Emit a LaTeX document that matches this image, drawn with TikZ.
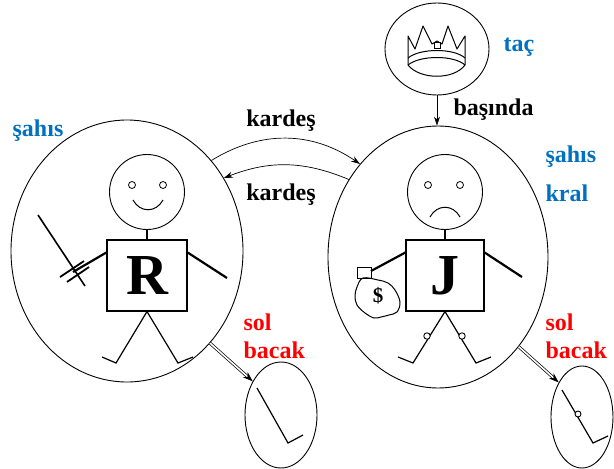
\documentclass[tikz,border=0pt]{standalone}
\usepackage{fontspec}
\setmainfont{Liberation Serif}
\usetikzlibrary{shapes.geometric,arrows.meta,positioning}
\definecolor{mavi}{RGB}{0,112,192}

\begin{document}
\begin{tikzpicture}[
  x=1pt, y=-1pt,
  govde/.style={ellipse, draw, line width=0.9pt, inner sep=0},
  bas/.style={circle, draw, line width=0.9pt, inner sep=0, minimum size=75pt},
  goz/.style={circle, draw, line width=0.8pt, inner sep=0, minimum size=7pt},
  kutu/.style={draw, line width=1.1pt, inner sep=0, minimum height=71pt,
    font=\fontsize{58}{60}\selectfont\bfseries},
  etiket/.style={font=\fontsize{24}{28}\selectfont\bfseries},
  tur/.style={etiket, text=mavi},
  parca/.style={etiket, text=red},
  kol/.style={line width=2.2pt},
  bacak/.style={line width=1.2pt},
  ok/.style={-{Stealth[length=9pt,width=6pt]}, line width=0.7pt},
  cift/.style={double, double distance=1.6pt, line width=0.7pt,
    -{Stealth[length=10pt,width=7pt]}}
]
\useasboundingbox (0,0) rectangle (614,469);

% ellipses
\node[govde, minimum width=232pt, minimum height=262pt] (rsahis) at (127,251) {};
\node[govde, minimum width=220pt, minimum height=262pt] (jsahis) at (438,257) {};
\node[govde, minimum width=104pt, minimum height=92pt] (tac) at (437,49) {};
\node[govde, minimum width=72pt, minimum height=106pt] (rbacak) at (281,415) {};
\node[govde, minimum width=62pt, minimum height=102pt] (jbacak) at (582,417) {};

% crown
\draw[line width=1pt, line join=round]
  (408,65) -- (408,36) -- (415,49) -- (423,26) -- (432,44) -- (437,41)
  -- (442,44) -- (448,26) -- (457,49) -- (465,36) -- (465,65);
\draw[line width=1pt] (434.5,42) rectangle (440.5,48);
\draw[line width=1pt] (408,58) .. controls (420,48) and (454,48) .. (465,58);
\draw[line width=1pt] (408,65) .. controls (420,55) and (454,55) .. (465,65);
\draw[line width=1pt] (408,65) .. controls (420,80) and (454,80) .. (465,65);

% R
\node[bas] (rbas) at (147,192) {};
\node[goz] (rgoz1) at (132,185) {};
\node[goz] (rgoz2) at (163,185) {};
\draw[line width=1pt] (133,200) .. controls (140,213) and (156,213) .. (163,200);
\node[kutu, minimum width=80pt] (rkutu) at (147,275.5) {R};
\draw[kol] (rbas.south) -- (rkutu.north);
\draw[kol] ([yshift=-13pt]rkutu.north west) -- (73,272);
\draw[kol] ([yshift=-13pt]rkutu.north east) -- (227,278);
\draw[line width=1.6pt] (38,215) -- (85,286);
\draw[line width=1.8pt] (60,277) -- (84,261);
\draw[line width=1.8pt] (67,282) -- (89,267);
\draw[bacak] (102,357) -- (116,363) -- (rkutu.south) -- (178,363) -- (193,357);

% J
\node[bas] (jbas) at (445,192) {};
\node[goz] (jgoz1) at (428,185) {};
\node[goz] (jgoz2) at (460,185) {};
\draw[line width=1pt] (430,217) .. controls (437,204) and (453,204) .. (460,217);
\node[kutu, minimum width=78pt] (jkutu) at (445,275.5) {J};
\draw[kol] (jbas.south) -- (jkutu.north);
\draw[kol] ([yshift=-13pt]jkutu.north west) -- (371,271);
\draw[kol] ([yshift=-13pt]jkutu.north east) -- (522,277);
\draw[line width=1pt] (357,267) rectangle (371,278);
\draw[line width=1pt] plot[smooth cycle, tension=0.6] coordinates {
  (363,278) (357,287) (355,296) (357,305) (365,313) (374,318) (381,317)
  (389,315) (397,312) (400,302) (395,290) (388,283) (378,280)};
\node[font=\fontsize{21}{22}\selectfont\bfseries] (para) at (378,296) {\$};
\draw[bacak] (398,357) -- (413,363) -- (jkutu.south) -- (476,363) -- (491,357);
\draw[line width=0.9pt, fill=white] (427,336) circle (3.2);
\draw[line width=0.9pt, fill=white] (462,336) circle (3.2);

% legs
\draw[bacak] (257,388) -- (288,443) -- (303,435);
\draw[bacak] (562,390) -- (593,443) -- (608,436);
\draw[line width=0.9pt, fill=white] (578,414) circle (3);

% links
\draw[ok] (tac.south) -- (tac.south |- jsahis.north);
\draw[ok] (rsahis.47) to[bend left=33] (jsahis.130);
\draw[ok] (jsahis.139) to[bend right=22] (rsahis.37);
\draw[cift] (rsahis.-48) -- (rbacak.130);
\draw[cift] (jsahis.-48) -- (jbacak.124);

% labels
\node[tur] (tacyazi) at (519,47) {taç};
\node[etiket, anchor=west] (basinda) at (450,110) {başında};
\node[etiket] (kardes1) at (281,121) {kardeş};
\node[etiket] (kardes2) at (281,195) {kardeş};
\node[tur] (rsahisyazi) at (38,131) {şahıs};
\node[tur, anchor=west] (jsahisyazi) at (542,157) {şahıs};
\node[tur, anchor=west] (kral) at (542,193) {kral};
\node[parca, anchor=west] (rsol) at (240,322) {sol};
\node[parca, anchor=west] (rbacakyazi) at (240,350) {bacak};
\node[parca, anchor=west] (jsol) at (542,322) {sol};
\node[parca, anchor=west] (jbacakyazi) at (542,350) {bacak};
\end{tikzpicture}
\end{document}
